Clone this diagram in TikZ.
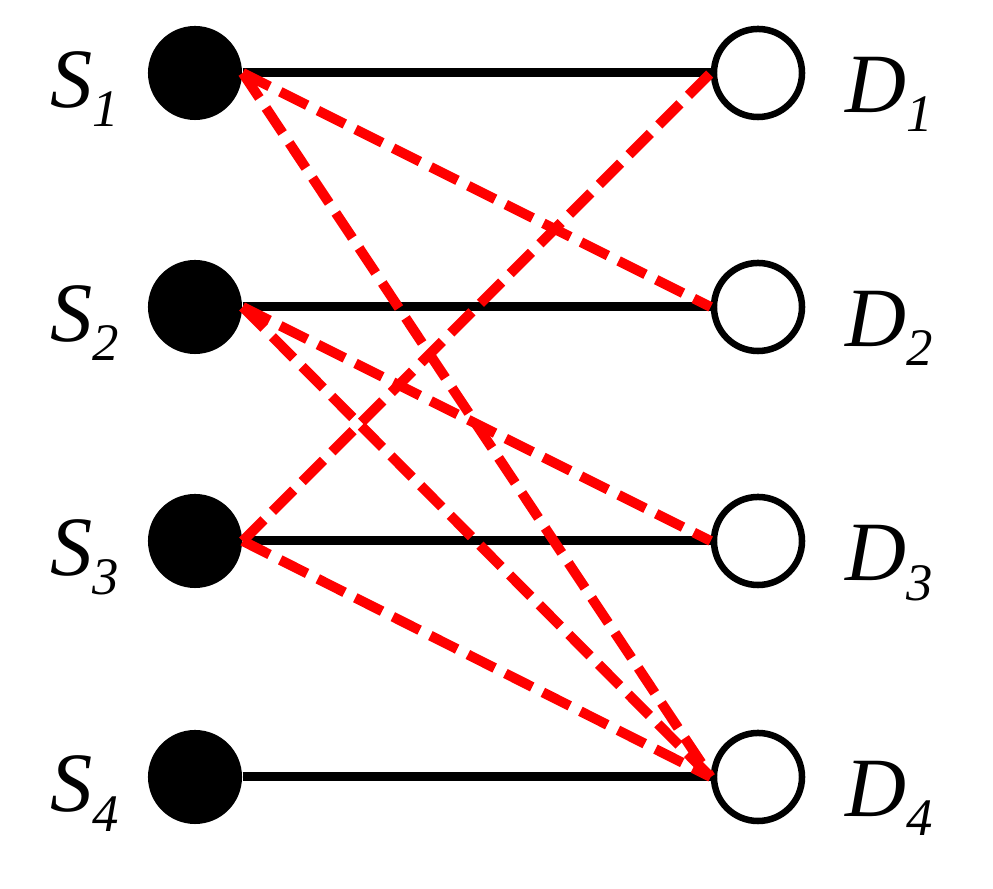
\documentclass[tikz,border=0pt]{standalone}
\usepackage{fontspec}
\setmainfont{Liberation Serif}
\newcommand{\lowidx}[1]{\raisebox{-0.19cm}{\fontsize{15}{18}\selectfont #1}}

\begin{document}
\begin{tikzpicture}[x=0.01cm,y=-0.01cm,
	src/.style={circle,fill=black,minimum size=0.94cm,inner sep=0pt},
	dst/.style={circle,draw=black,line width=0.065cm,fill=white,minimum size=0.88cm,inner sep=0pt},
	link/.style={line width=0.09cm},
	cross/.style={red,line width=0.1cm,dash pattern=on 0.3cm off 0.12cm},
	lbl/.style={anchor=base west,inner sep=0pt,font=\fontsize{24}{28}\selectfont\itshape}]
\useasboundingbox (0,0) rectangle (993,889);
% sources and destinations
\foreach \i/\y in {1/73,2/307,3/541,4/777} {
	\node[src] (s\i) at (195,\y) {};
	\node[dst] (d\i) at (758,\y) {};
	\node[lbl] (ls\i) at (50,\y+35) {S\lowidx{\i}};
	\node[lbl] (ld\i) at (845,\y+40) {D\lowidx{\i}};
}
% direct links
\foreach \i in {1,...,4}
	\draw[link] (s\i.east) -- (d\i.west);
% cross links
\foreach \a/\b in {1/2,1/4,2/3,2/4,3/1,3/4}
	\draw[cross] (s\a.east) -- (d\b.west);
\end{tikzpicture}
\end{document}
